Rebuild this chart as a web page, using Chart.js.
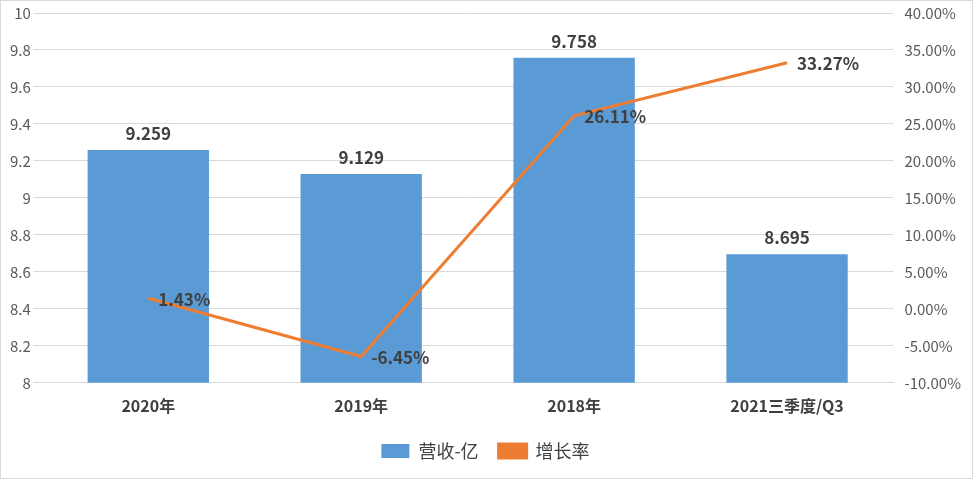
<!DOCTYPE html>
<html><head><meta charset="utf-8">
<script src="https://cdn.jsdelivr.net/npm/chart.js@4"></script>
<style>
html,body{margin:0;padding:0;background:#fff;}
#wrap{position:absolute;left:0;top:0;width:971px;height:477px;border:1px solid #d9d9d9;}
</style></head><body>
<div id="wrap"><canvas id="c" width="971" height="477"></canvas></div>
<script>
const categories = ['2020年','2019年','2018年','2021三季度/Q3'];
const revenue = [9.259, 9.129, 9.758, 8.695];
const growth = [1.43, -6.45, 26.11, 33.27];
const revenueLabels = ['9.259','9.129','9.758','8.695'];
const growthLabels = ['1.43%','-6.45%','26.11%','33.27%'];
const FONT = "'Noto Sans CJK SC','Microsoft YaHei',sans-serif";

const labelPlugin = {
  id:'labels',
  afterDatasetsDraw(chart){
    const ctx = chart.ctx;
    ctx.save();
    ctx.font = "bold 17px " + FONT;
    ctx.fillStyle = '#404040';
    const bars = chart.getDatasetMeta(1).data;
    ctx.textAlign='center'; ctx.textBaseline='bottom';
    bars.forEach((b,i)=>ctx.fillText(revenueLabels[i], b.x, b.y-8));
    const pts = chart.getDatasetMeta(0).data;
    ctx.textAlign='left'; ctx.textBaseline='middle';
    pts.forEach((p,i)=>ctx.fillText(growthLabels[i], p.x+10, p.y+1));
    ctx.restore();
  }
};

new Chart(document.getElementById('c'), {
  data:{
    labels:categories,
    datasets:[
      {type:'line', label:'增长率', data:growth, yAxisID:'y1', borderColor:'#ED7D31', backgroundColor:'#ED7D31', borderWidth:3, pointRadius:0, tension:0, order:0},
      {type:'bar', label:'营收-亿', data:revenue, yAxisID:'y', backgroundColor:'#5B9BD5', categoryPercentage:1, barPercentage:0.57, order:1}
    ]
  },
  options:{
    responsive:false, animation:false,
    layout:{padding:{left:6,right:8,top:10,bottom:8}},
    plugins:{
      legend:{position:'bottom', reverse:true, labels:{font:{family:FONT,size:18}, color:'#404040', boxWidth:28, boxHeight:14, padding:20}},
      tooltip:{enabled:false}
    },
    scales:{
      x:{grid:{display:false}, border:{color:'#d9d9d9'}, ticks:{font:{family:FONT,size:16,weight:'bold'}, color:'#404040', padding:6}},
      y:{min:8,max:10, ticks:{stepSize:0.2, font:{family:FONT,size:15}, color:'#595959', callback:v=>+v.toFixed(1)}, grid:{color:'#d9d9d9'}, border:{display:false}},
      y1:{position:'right', min:-10, max:40, ticks:{stepSize:5, font:{family:FONT,size:15}, color:'#595959', callback:v=>v.toFixed(2)+'%'}, grid:{display:false}, border:{display:false}}
    }
  },
  plugins:[labelPlugin]
});
</script></body></html>
